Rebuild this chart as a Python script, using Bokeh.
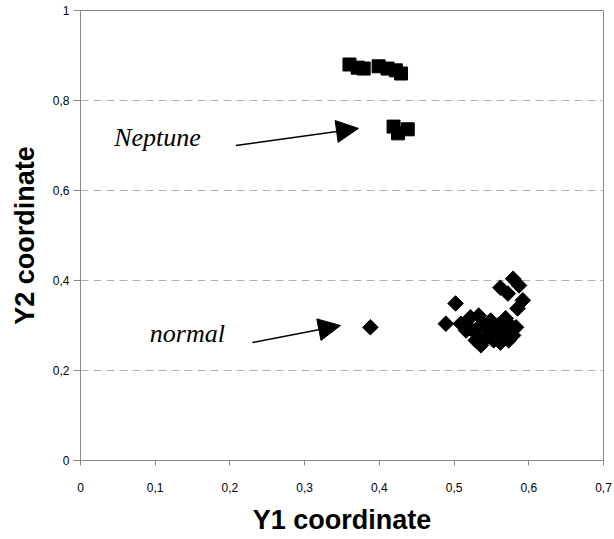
import numpy as np
from bokeh.plotting import figure
from bokeh.models import FixedTicker, Arrow, NormalHead, Label, Range1d
from bokeh.embed import file_html
from bokeh.resources import INLINE

# Data
neptune_y1 = [0.360, 0.371, 0.379, 0.399, 0.411, 0.422, 0.429, 0.419, 0.425, 0.438]
neptune_y2 = [0.880, 0.873, 0.871, 0.876, 0.871, 0.867, 0.860, 0.742, 0.727, 0.736]

normal_y1 = [0.388, 0.502, 0.489, 0.509, 0.522, 0.529, 0.538, 0.546, 0.553, 0.558,
             0.565, 0.569, 0.576, 0.562, 0.536, 0.516, 0.573, 0.562, 0.579, 0.587,
             0.572, 0.592, 0.585, 0.522, 0.533, 0.549, 0.556, 0.542, 0.569, 0.579,
             0.529, 0.536, 0.583]
normal_y2 = [0.296, 0.349, 0.304, 0.304, 0.318, 0.289, 0.304, 0.289, 0.267, 0.300,
             0.278, 0.316, 0.300, 0.262, 0.267, 0.289, 0.267, 0.384, 0.404, 0.389,
             0.371, 0.356, 0.338, 0.293, 0.322, 0.311, 0.278, 0.271, 0.289, 0.278,
             0.267, 0.256, 0.296]

x_ticks = [0, 0.1, 0.2, 0.3, 0.4, 0.5, 0.6, 0.7]
x_tick_labels = ["0", "0,1", "0,2", "0,3", "0,4", "0,5", "0,6", "0,7"]
y_ticks = [0, 0.2, 0.4, 0.6, 0.8, 1.0]
y_tick_labels = ["0", "0,2", "0,4", "0,6", "0,8", "1"]

p = figure(width=614, height=539, output_backend="svg", toolbar_location=None,
           x_range=Range1d(0, 0.7), y_range=Range1d(0, 1),
           min_border_left=80, min_border_right=11, min_border_top=10, min_border_bottom=79)

p.outline_line_color = "#8a8a8a"
p.outline_line_width = 1
p.xgrid.visible = False
p.ygrid.grid_line_color = "#b0b0b0"
p.ygrid.grid_line_dash = "8 5"
p.ygrid.grid_line_width = 1.2

for ax, ticks, labels in [(p.xaxis[0], x_ticks, x_tick_labels), (p.yaxis[0], y_ticks, y_tick_labels)]:
    ax.ticker = FixedTicker(ticks=ticks)
    ax.major_label_overrides = {t: l for t, l in zip(ticks, labels)}
    ax.minor_tick_line_color = None
    ax.axis_line_color = "#8a8a8a"
    ax.major_tick_line_color = "#8a8a8a"
    ax.major_tick_in = 0
    ax.major_label_text_font = "Liberation Sans"
    ax.major_label_text_font_size = "12px"
    ax.major_label_text_color = "black"
    ax.axis_label_text_font = "Liberation Sans"
    ax.axis_label_text_font_style = "bold"
    ax.axis_label_text_font_size = "27px"
    ax.axis_label_text_color = "black"

p.xaxis.axis_label = "Y1 coordinate"
p.yaxis.axis_label = "Y2 coordinate"
p.xaxis.major_tick_out = 5
p.yaxis.major_tick_out = 7
p.xaxis.major_label_standoff = 17
p.yaxis.major_label_standoff = 4
p.xaxis.axis_label_standoff = 10
p.yaxis.axis_label_standoff = 10

p.scatter(neptune_y1, neptune_y2, marker="square", size=13, color="black")
p.scatter(normal_y1, normal_y2, marker="square", size=11, angle=np.pi / 4, color="black")

p.add_layout(Arrow(end=NormalHead(size=22, fill_color="black", line_color="black"),
                   x_start=0.208, y_start=0.700, x_end=0.372, y_end=0.738,
                   line_width=1.5, line_color="black"))
p.add_layout(Arrow(end=NormalHead(size=22, fill_color="black", line_color="black"),
                   x_start=0.230, y_start=0.262, x_end=0.348, y_end=0.300,
                   line_width=1.5, line_color="black"))

p.add_layout(Label(x=0.103, y=0.718, text="Neptune", text_font="Liberation Serif",
                   text_font_style="italic", text_font_size="26px", text_color="black",
                   text_align="center", text_baseline="middle"))
p.add_layout(Label(x=0.143, y=0.282, text="normal", text_font="Liberation Serif",
                   text_font_style="italic", text_font_size="26px", text_color="black",
                   text_align="center", text_baseline="middle"))

open("out.html", "w").write(file_html(p, INLINE))
